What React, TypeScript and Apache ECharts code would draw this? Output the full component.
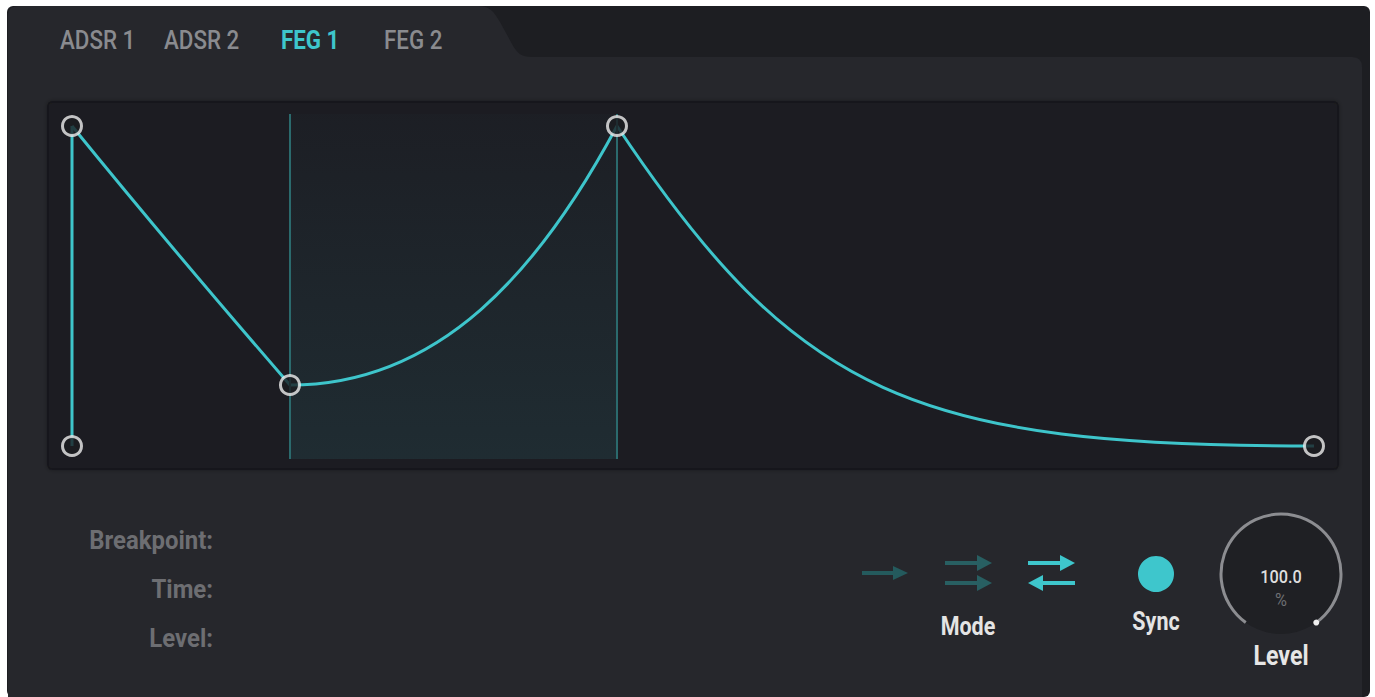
import React, { useEffect, useRef } from "react";
import * as echarts from "echarts";

// ---- Data (envelope FEG 1), time in % of envelope length, level in % ----
const breakpointTimes = [0, 0, 17.55, 43.88, 100];
const breakpointLevels = [0, 100, 19.06, 100, 0];

// curve shape of each segment (breakpoint i -> i+1) as two bezier handles,
// in the same time / level units
const handle1Times = [0, 5.88, 29.63, 58.37];
const handle1Levels = [0, 71.9, 19.06, 15.6];
const handle2Times = [0, 11.76, 37.68, 67.79];
const handle2Levels = [100, 45.0, 55.0, 0];

const loopStart = 17.55;
const loopEnd = 43.88;

const tabLabels = ["ADSR 1", "ADSR 2", "FEG 1", "FEG 2"];
const activeTab = "FEG 1";
const infoLabels = ["Breakpoint:", "Time:", "Level:"];
const levelValue = "100.0";

const FONT = "Roboto, 'Noto Sans', sans-serif";
const TEAL = "#3ec5cb";
const SX = 0.86;

export default function App() {
  const ref = useRef<HTMLDivElement>(null);
  useEffect(() => {
    if (!ref.current) return;
    const chart = echarts.init(ref.current, undefined, { renderer: "svg" });

    const panelPath =
      "M8 57 L8 16 Q8 6 18 6 L478 6 C490 6 494 12 500 22 L512 44 C517 53 521 57 532 57 L1352 57 Q1362 57 1362 67 L1362 697 L8 697 Z";
    echarts.graphic.registerShape("panelShape", echarts.graphic.extendPath(panelPath, {}) as any);

    const tabX = [60, 164, 281, 384];
    const infoY = [540, 589, 638];

    const lineEl = (x1: number, y1: number, x2: number, y2: number, color: string) => ({
      type: "line",
      shape: { x1, y1, x2, y2 },
      style: { stroke: color, lineWidth: 4 },
      z: 1,
    });
    const triEl = (pts: number[][], color: string) => ({
      type: "polygon",
      shape: { points: pts },
      style: { fill: color },
      z: 1,
    });
    const textEl = (x: number, y: number, text: string, fill: string, font: string, align: string, z = 1, sx = SX) => ({
      type: "text",
      x,
      y,
      scaleX: sx,
      style: { text, fill, font, align, verticalAlign: "middle" },
      z,
    });

    const elements: any[] = [
      { type: "rect", shape: { x: 0, y: 0, width: 1375, height: 697 }, style: { fill: "#ffffff" }, z: -5 },
      { type: "rect", shape: { x: 7, y: 6, width: 1363, height: 691, r: 6 }, style: { fill: "#1d1e22" }, z: -4 },
      { type: "panelShape", x: 0, y: 0, style: { fill: "#26272c" }, z: -3 },
      {
        type: "rect",
        shape: { x: 48, y: 102, width: 1290, height: 367, r: 4 },
        style: { fill: "#1c1d21", stroke: "#19191d", lineWidth: 2, shadowBlur: 4, shadowColor: "rgba(0,0,0,0.35)" },
        z: -2,
      },
      // tabs
      ...tabLabels.map((t, i) =>
        textEl(
          tabX[i],
          40,
          t,
          t === activeTab ? "#3ec6cc" : "#8a8b8f",
          `${t === activeTab ? "bold" : "500"} 26px ${FONT}`,
          "left"
        )
      ),
      // info labels
      ...infoLabels.map((t, i) => textEl(213, infoY[i], t, "#6d6e72", `bold 26px ${FONT}`, "right", 1, 0.92)),
      // mode icons
      lineEl(862, 573, 896, 573, "#245a5d"),
      triEl([[893, 566], [908, 573], [893, 580]], "#245a5d"),
      lineEl(945, 563, 980, 563, "#285f62"),
      triEl([[977, 555], [992, 563], [977, 571]], "#285f62"),
      lineEl(945, 583, 980, 583, "#285f62"),
      triEl([[977, 575], [992, 583], [977, 591]], "#285f62"),
      lineEl(1028, 563, 1062, 563, "#3ec6cc"),
      triEl([[1060, 555], [1075, 563], [1060, 571]], "#3ec6cc"),
      lineEl(1041, 583, 1075, 583, "#3ec6cc"),
      triEl([[1043, 575], [1028, 583], [1043, 591]], "#3ec6cc"),
      textEl(968, 626, "Mode", "#e4e4e4", `bold 25px ${FONT}`, "center"),
      // sync
      { type: "circle", shape: { cx: 1156, cy: 574, r: 18 }, style: { fill: "#3ec6cc" }, z: 1 },
      textEl(1156, 621, "Sync", "#e4e4e4", `bold 25px ${FONT}`, "center"),
      // knob
      { type: "circle", shape: { cx: 1281, cy: 574, r: 60 }, style: { fill: "#1f2024" }, z: 1 },
      {
        type: "arc",
        shape: { cx: 1281, cy: 574, r: 60, startAngle: (126 * Math.PI) / 180, endAngle: (414 * Math.PI) / 180, clockwise: true },
        style: { stroke: "#8c8d91", lineWidth: 3, fill: "none" },
        z: 2,
      },
      {
        type: "circle",
        shape: { cx: 1281 + 60 * Math.cos((54 * Math.PI) / 180), cy: 574 + 60 * Math.sin((54 * Math.PI) / 180), r: 3 },
        style: { fill: "#f0f0f0" },
        z: 3,
      },
      textEl(1281, 577, levelValue, "#dedede", `500 19px ${FONT}`, "center", 3),
      textEl(1281, 600, "%", "#6e6f73", `19px ${FONT}`, "center", 3),
      textEl(1281, 656, "Level", "#e6e6e6", `bold 27px ${FONT}`, "center"),
    ];

    // one data item per envelope segment
    const segmentData = handle1Times.map((_, i) => [breakpointTimes[i], breakpointLevels[i], i]);

    chart.setOption({
      animation: false,
      backgroundColor: "#ffffff",
      graphic: { elements },
      grid: { left: 72, right: 61, top: 114, bottom: 238 },
      xAxis: { type: "value", min: 0, max: 100, show: false },
      yAxis: { type: "value", min: -4.0625, max: 103.75, show: false },
      series: [
        {
          type: "custom",
          name: "envelope",
          coordinateSystem: "cartesian2d",
          data: segmentData,
          encode: { x: 0, y: 1 },
          silent: true,
          z: 3,
          clip: false,
          renderItem: (params: any, api: any) => {
            const i = params.dataIndex;
            const p0 = api.coord([breakpointTimes[i], breakpointLevels[i]]);
            const p1 = api.coord([breakpointTimes[i + 1], breakpointLevels[i + 1]]);
            const c1 = api.coord([handle1Times[i], handle1Levels[i]]);
            const c2 = api.coord([handle2Times[i], handle2Levels[i]]);
            return {
              type: "bezierCurve",
              shape: {
                x1: p0[0],
                y1: p0[1],
                x2: p1[0],
                y2: p1[1],
                cpx1: c1[0],
                cpy1: c1[1],
                cpx2: c2[0],
                cpy2: c2[1],
              },
              style: { stroke: TEAL, lineWidth: 3, fill: null },
            };
          },
          markArea: {
            silent: true,
            itemStyle: {
              color: {
                type: "linear",
                x: 0,
                y: 0,
                x2: 0,
                y2: 1,
                colorStops: [
                  { offset: 0, color: "rgba(62,198,204,0.015)" },
                  { offset: 1, color: "rgba(62,198,204,0.095)" },
                ],
              },
            },
            data: [[{ xAxis: loopStart }, { xAxis: loopEnd }]],
          },
          markLine: {
            silent: true,
            symbol: "none",
            label: { show: false },
            lineStyle: { color: "#2b6a6d", width: 2, type: "solid" },
            data: [{ xAxis: loopStart }, { xAxis: loopEnd }],
          },
        },
        {
          type: "scatter",
          name: "breakpoints",
          data: breakpointTimes.map((t, i) => [t, breakpointLevels[i]]),
          symbol: "circle",
          symbolSize: 19,
          itemStyle: { color: "#1c1d21", borderColor: "#eeeeee", borderWidth: 3 },
          z: 5,
          silent: true,
        },
      ],
    });
    return () => chart.dispose();
  }, []);
  return <div ref={ref} style={{ position: "fixed", left: 0, top: 0, width: 1375, height: 697 }} />;
}
